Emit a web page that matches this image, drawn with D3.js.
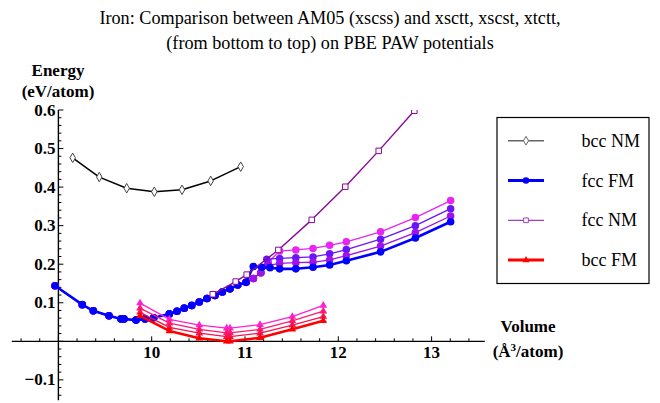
<!DOCTYPE html>
<html>
<head>
<meta charset="utf-8">
<script src="https://cdn.jsdelivr.net/npm/d3@7"></script>
<style>
  body { margin: 0; background: #fff; }
</style>
</head>
<body>
<svg id="chart" width="660" height="403"></svg>
<script>
"use strict";

// ---- data ----
var titleLines = ["Iron: Comparison between AM05 (xscss) and xsctt, xscst, xtctt,",
                  "(from bottom to top) on PBE PAW potentials"];
var xTicks = [10, 11, 12, 13];
var yTicks = [-0.1, 0.1, 0.2, 0.3, 0.4, 0.5, 0.6];
var legendLabels = ["bcc NM", "fcc FM", "fcc NM", "bcc FM"];

// bcc NM (single curve)
var bccNM = [[9.153, 0.476], [9.438, 0.426], [9.732, 0.397], [10.028, 0.388],
             [10.325, 0.393], [10.632, 0.416], [10.954, 0.453]];

// fcc NM (single curve)
var fccNM = [[10.654, 0.122], [10.90, 0.155], [11.018, 0.173], [11.357, 0.237],
             [11.715, 0.315], [12.075, 0.401], [12.433, 0.494], [12.815, 0.598]];

// fcc FM: low volume branch shared by the four functionals
var fccLow = [[8.964, 0.144], [9.256, 0.095], [9.374, 0.079], [9.542, 0.066],
              [9.671, 0.058], [9.703, 0.058], [9.832, 0.055], [9.929, 0.058],
              [10.021, 0.061], [10.189, 0.071], [10.271, 0.078], [10.349, 0.086],
              [10.429, 0.093], [10.510, 0.102], [10.593, 0.111], [10.678, 0.119],
              [10.757, 0.128], [10.839, 0.136], [10.922, 0.146], [11.011, 0.153]];
// magnetic branches, bottom to top: xscss (AM05), xsctt, xscst, xtctt
var fccAM05 = [[11.089, 0.194], [11.179, 0.192], [11.268, 0.191], [11.371, 0.188],
               [11.545, 0.188], [11.729, 0.192], [11.907, 0.198], [12.086, 0.209],
               [12.453, 0.232], [12.826, 0.268], [13.204, 0.310]];
var fccXsctt = [[11.09, 0.163], [11.17, 0.178], [11.25, 0.197], [11.371, 0.202],
                [11.545, 0.204], [11.729, 0.205], [11.907, 0.211], [12.086, 0.222],
                [12.453, 0.247], [12.826, 0.282], [13.204, 0.325]];
var fccXscst = [[11.09, 0.163], [11.17, 0.178], [11.233, 0.213], [11.371, 0.215],
                [11.545, 0.217], [11.729, 0.219], [11.907, 0.227], [12.086, 0.238],
                [12.453, 0.265], [12.826, 0.300], [13.204, 0.344]];
var fccXtctt = [[11.09, 0.163], [11.17, 0.178], [11.25, 0.205], [11.371, 0.234],
                [11.545, 0.237], [11.729, 0.241], [11.907, 0.249], [12.086, 0.258],
                [12.453, 0.284], [12.826, 0.321], [13.204, 0.365]];

// bcc FM, same volumes for all four
var bccVol = [9.875, 10.19, 10.51, 10.804, 10.839, 11.161, 11.507, 11.839];
var bccAM05 = [0.066, 0.027, 0.008, 0.000, 0.000, 0.009, 0.031, 0.053];
var bccXsctt = [0.075, 0.036, 0.021, 0.012, 0.012, 0.021, 0.042, 0.064];
var bccXscst = [0.086, 0.047, 0.031, 0.022, 0.022, 0.031, 0.053, 0.078];
var bccXtctt = [0.099, 0.057, 0.042, 0.034, 0.034, 0.043, 0.064, 0.093];

// ---- layout ----
var svg = d3.select("#chart").style("font-family", "Liberation Serif");
var x = d3.scaleLinear().domain([10, 13]).range([151.7, 431.6]);
var y = d3.scaleLinear().domain([0, 0.6]).range([341.3, 110]);

svg.append("defs").append("clipPath").attr("id", "plotclip")
  .append("rect")
  .attr("x", 0).attr("y", y(0.6)).attr("width", 660).attr("height", 403 - y(0.6));

// title
svg.append("g").selectAll("text")
  .data(titleLines)
  .enter().append("text")
  .attr("x", 330)
  .attr("y", function(d, i) { return 24 + i * 25; })
  .attr("text-anchor", "middle")
  .style("font-family", "Liberation Serif")
  .style("font-size", "18.2px")
  .text(function(d) { return d; });

// x axis line and ticks (pointing up)
var axisCol = "#000";
svg.append("line")
  .attr("x1", x(8.5)).attr("x2", x(13.57))
  .attr("y1", y(0)).attr("y2", y(0))
  .attr("stroke", axisCol).attr("stroke-width", 1.2);

var xMinor = d3.range(8.6, 13.45, 0.2);
svg.append("g").selectAll("line")
  .data(xMinor)
  .enter().append("line")
  .attr("x1", function(d) { return x(d); })
  .attr("x2", function(d) { return x(d); })
  .attr("y1", y(0))
  .attr("y2", function(d) { return y(0) - (Math.abs(d - Math.round(d)) < 0.01 ? 5 : 3); })
  .attr("stroke", axisCol).attr("stroke-width", 1);

svg.append("g").selectAll("text")
  .data(xTicks)
  .enter().append("text")
  .attr("x", function(d) { return x(d); })
  .attr("y", y(0) + 17)
  .attr("text-anchor", "middle")
  .style("font-family", "Liberation Serif")
  .style("font-size", "17px").style("font-weight", "bold")
  .text(function(d) { return d; });

// y axis at v = 9
var x0 = x(9);
svg.append("line")
  .attr("x1", x0).attr("x2", x0)
  .attr("y1", y(0.6)).attr("y2", y(-0.153))
  .attr("stroke", axisCol).attr("stroke-width", 1.4);

var yMinor = d3.range(-0.14, 0.601, 0.02);
svg.append("g").selectAll("line")
  .data(yMinor)
  .enter().append("line")
  .attr("x1", x0)
  .attr("x2", function(d) { return x0 + (Math.abs(d * 10 - Math.round(d * 10)) < 0.01 ? 5 : 3); })
  .attr("y1", function(d) { return y(d); })
  .attr("y2", function(d) { return y(d); })
  .attr("stroke", axisCol).attr("stroke-width", 1);

svg.append("g").selectAll("text")
  .data(yTicks)
  .enter().append("text")
  .attr("x", x0 - 3)
  .attr("y", function(d) { return y(d) + 5.5; })
  .attr("text-anchor", "end")
  .style("font-family", "Liberation Serif")
  .style("font-size", "17px").style("font-weight", "bold")
  .text(function(d) { return d < 0 ? "\u2212" + Math.abs(d) : d; });

// axis labels
function boldLabel(px, py, txt) {
  return svg.append("text").attr("x", px).attr("y", py)
    .attr("text-anchor", "middle")
    .style("font-family", "Liberation Serif")
    .style("font-size", "17px").style("font-weight", "bold")
    .text(txt);
}
boldLabel(58, 76, "Energy");
boldLabel(58, 97, "(eV/atom)");
boldLabel(528, 332, "Volume");
var vl = boldLabel(528, 357, null);
vl.append("tspan").text("(\u00C5");
vl.append("tspan").attr("dy", -6).style("font-size", "11px").text("3");
vl.append("tspan").attr("dy", 6).text("/atom)");

// ---- series ----
var line = d3.line()
  .x(function(d) { return x(d[0]); })
  .y(function(d) { return y(d[1]); });

var plot = svg.append("g").attr("clip-path", "url(#plotclip)");

function drawSeries(data, color, width, symbol, size, filled, markStroke) {
  var g = plot.append("g");
  g.append("path")
    .attr("d", line(data))
    .attr("fill", "none")
    .attr("stroke", color)
    .attr("stroke-width", width)
    .attr("stroke-linejoin", "round");
  g.selectAll("path.mark")
    .data(data)
    .enter().append("path")
    .attr("class", "mark")
    .attr("transform", function(d) { return "translate(" + x(d[0]) + "," + y(d[1]) + ")"; })
    .attr("d", d3.symbol().type(symbol).size(size))
    .attr("fill", filled ? color : "#fff")
    .attr("stroke", markStroke || color)
    .attr("stroke-width", filled ? 0 : 1);
}

function zipBcc(vals) {
  return bccVol.map(function(v, i) { return [v, vals[i]]; });
}

// bcc NM
drawSeries(bccNM, "#000", 1.5, d3.symbolDiamond, 26, false, "#444");

// fcc FM, top curve first so the AM05 one ends on top
drawSeries(fccLow.concat(fccXtctt), "#e625f2", 1.3, d3.symbolCircle, 44, true);
drawSeries(fccLow.concat(fccXscst), "#6a14fa", 1.3, d3.symbolCircle, 44, true);
drawSeries(fccLow.concat(fccXsctt), "#a012e6", 1.3, d3.symbolCircle, 44, true);
drawSeries(fccLow.concat(fccAM05), "#0000ff", 2.6, d3.symbolCircle, 46, true);

// fcc NM
drawSeries(fccNM, "#860a96", 1.4, d3.symbolSquare, 30, false);

// bcc FM
drawSeries(zipBcc(bccXtctt), "#ff1fd6", 1.3, d3.symbolTriangle, 26, true);
drawSeries(zipBcc(bccXscst), "#ff1a70", 1.3, d3.symbolTriangle, 26, true);
drawSeries(zipBcc(bccXsctt), "#f5124e", 1.3, d3.symbolTriangle, 26, true);
drawSeries(zipBcc(bccAM05), "#ff0000", 2.6, d3.symbolTriangle, 26, true);

// ---- legend ----
var legendStyle = [
  {color: "#666", width: 1.5, symbol: d3.symbolDiamond, size: 22, filled: false},
  {color: "#0000ff", width: 3, symbol: d3.symbolCircle, size: 34, filled: true},
  {color: "#a040c0", width: 1.3, symbol: d3.symbolSquare, size: 22, filled: false},
  {color: "#ff0000", width: 3, symbol: d3.symbolTriangle, size: 22, filled: true}
];

var legend = svg.append("g");
legend.append("rect")
  .attr("x", 497).attr("y", 117.5)
  .attr("width", 152).attr("height", 166)
  .attr("fill", "#fff").attr("stroke", "#000").attr("stroke-width", 1.2);

var rows = legend.selectAll("g.row")
  .data(legendLabels)
  .enter().append("g")
  .attr("class", "row")
  .attr("transform", function(d, i) { return "translate(0," + (140.7 + i * 39.8) + ")"; });

rows.append("line")
  .attr("x1", 508).attr("x2", 544)
  .attr("stroke", function(d, i) { return legendStyle[i].color; })
  .attr("stroke-width", function(d, i) { return legendStyle[i].width; });
rows.append("path")
  .attr("transform", "translate(526,0)")
  .attr("d", function(d, i) { return d3.symbol().type(legendStyle[i].symbol).size(legendStyle[i].size)(); })
  .attr("fill", function(d, i) { return legendStyle[i].filled ? legendStyle[i].color : "#fff"; })
  .attr("stroke", function(d, i) { return legendStyle[i].color; })
  .attr("stroke-width", function(d, i) { return legendStyle[i].filled ? 0 : 1; });
rows.append("text")
  .attr("x", 581.5).attr("y", 6)
  .style("font-family", "Liberation Serif")
  .style("font-size", "18px")
  .text(function(d) { return d; });
</script>
</body>
</html>
